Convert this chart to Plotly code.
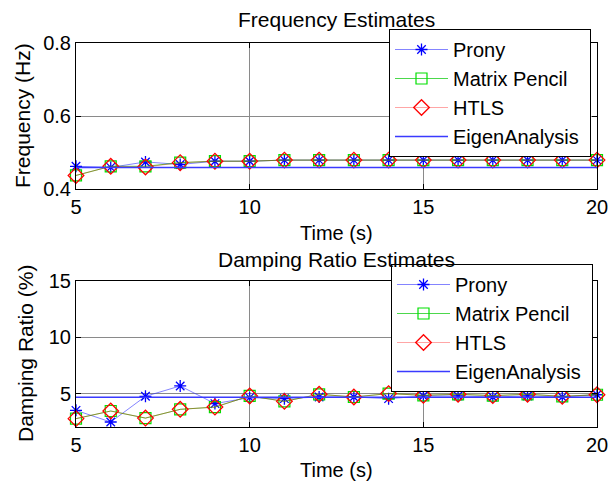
import plotly.graph_objects as go

# Estimation instants (s)
t_est = [5, 6, 7, 8, 9, 10, 11, 12, 13, 14, 15, 16, 17, 18, 19, 20]
t_eig = [5, 20]

# Frequency estimates (Hz)
freq_prony = [0.463, 0.460, 0.475, 0.468, 0.477, 0.477, 0.480, 0.480, 0.480, 0.480,
              0.480, 0.480, 0.480, 0.480, 0.480, 0.480]
freq_mp = [0.438, 0.463, 0.463, 0.473, 0.477, 0.477, 0.480, 0.480, 0.480, 0.480,
           0.480, 0.480, 0.480, 0.480, 0.480, 0.480]
freq_htls = [0.438, 0.463, 0.461, 0.473, 0.477, 0.477, 0.480, 0.480, 0.480, 0.480,
             0.480, 0.480, 0.480, 0.480, 0.480, 0.480]
freq_eig = [0.460, 0.460]

# Damping ratio estimates (%)
damp_prony = [3.51, 2.47, 4.76, 5.68, 4.11, 4.64, 4.55, 4.70, 4.70, 4.55,
              4.79, 4.79, 4.70, 4.79, 4.70, 4.90]
damp_mp = [2.77, 3.45, 2.82, 3.60, 3.80, 4.79, 4.31, 4.94, 4.70, 5.00,
           4.85, 4.94, 4.82, 4.94, 4.76, 4.90]
damp_htls = [2.77, 3.45, 2.82, 3.60, 3.80, 4.79, 4.31, 4.94, 4.70, 5.00,
             4.85, 4.94, 4.82, 4.94, 4.76, 4.90]
damp_eig = [4.68, 4.68]

x_ticks = [5, 10, 15, 20]
freq_ticks = [0.4, 0.6, 0.8]
damp_ticks = [5, 10, 15]

W, H = 611, 484
FONT = "Liberation Sans, Arial, sans-serif"
PAD = "\u00a0"

def px_x(p):
    return p / W

def px_y(p):
    return (H - p) / H

fig = go.Figure()

def add_set(prony, mp, htls, eig, xa, ya, legend):
    common = dict(xaxis=xa, yaxis=ya, legend=legend, cliponaxis=False)
    # open symbols take their stroke colour from marker.color
    fig.add_trace(go.Scatter(
        x=t_est, y=prony, name="Prony", mode="lines+markers",
        line=dict(color="rgba(50,50,255,0.6)", width=1),
        marker=dict(symbol="asterisk-open", size=10, color="#0000ff",
                    line=dict(width=1.3)),
        legendgroup=legend + "a", **common))
    fig.add_trace(go.Scatter(
        x=t_est, y=mp, name="Matrix Pencil", mode="lines+markers",
        line=dict(color="rgba(0,200,0,0.7)", width=1),
        marker=dict(symbol="square-open", size=11, color="#00e000",
                    line=dict(width=1.2)),
        legendgroup=legend + "b", **common))
    fig.add_trace(go.Scatter(
        x=t_est, y=htls, name="HTLS", mode="lines+markers",
        line=dict(color="rgba(255,0,0,0.35)", width=1),
        marker=dict(symbol="diamond-open", size=12, color="#ff0000",
                    line=dict(width=1.3)),
        legendgroup=legend + "c", **common))
    fig.add_trace(go.Scatter(
        x=t_eig, y=eig, name="EigenAnalysis" + PAD, mode="lines",
        line=dict(color="#3a3aff", width=1.5),
        legendgroup=legend + "d", **common))

add_set(freq_prony, freq_mp, freq_htls, freq_eig, "x", "y", "legend")
add_set(damp_prony, damp_mp, damp_htls, damp_eig, "x2", "y2", "legend2")

axis_common = dict(
    showline=True, linecolor="black", linewidth=1, mirror="ticks",
    ticks="inside", ticklen=5, tickcolor="black",
    showgrid=True, gridcolor="#8a8a8a", gridwidth=1,
    zeroline=False, tickfont=dict(family=FONT, size=20, color="black"),
)

xdom = [px_x(76), px_x(597)]
legend_common = dict(
    bgcolor="white", bordercolor="black", borderwidth=1,
    font=dict(family=FONT, size=20, color="black"),
    xanchor="right", yanchor="top", itemwidth=53,
    traceorder="grouped", tracegroupgap=0,
)

fig.update_layout(
    width=W, height=H,
    margin=dict(l=0, r=0, t=0, b=0, autoexpand=False),
    paper_bgcolor="white", plot_bgcolor="white",
    xaxis=dict(domain=xdom, range=[5, 20], tickvals=x_ticks, anchor="y", **axis_common),
    yaxis=dict(domain=[px_y(189.3), px_y(43.3)], range=[0.4, 0.8], tickvals=freq_ticks,
               ticktext=["0.4", "0.6", "0.8"], anchor="x", **axis_common),
    xaxis2=dict(domain=xdom, range=[5, 20], tickvals=x_ticks, anchor="y2", **axis_common),
    yaxis2=dict(domain=[px_y(427.3), px_y(281.3)], range=[2, 15], tickvals=damp_ticks,
                anchor="x2", **axis_common),
    legend=dict(x=px_x(591), y=px_y(29), **legend_common),
    legend2=dict(x=px_x(593), y=px_y(264), **legend_common),
    showlegend=True,
)

def label(text, x, y, angle=0, size=20):
    fig.add_annotation(text=text, x=px_x(x), y=px_y(y), xref="paper", yref="paper",
                       showarrow=False, textangle=angle, xanchor="center", yanchor="middle",
                       font=dict(family=FONT, size=size, color="black"))

label("Frequency Estimates", 336.5, 20, size=21)
label("Damping Ratio Estimates", 336.5, 259, size=21)
label("Time (s)", 336.5, 233)
label("Time (s)", 336.5, 470)
label("Frequency (Hz)", 23, 116, angle=-90, size=21)
label("Damping Ratio (%)", 25, 354, angle=-90, size=21)

fig.write_html("out.html")
